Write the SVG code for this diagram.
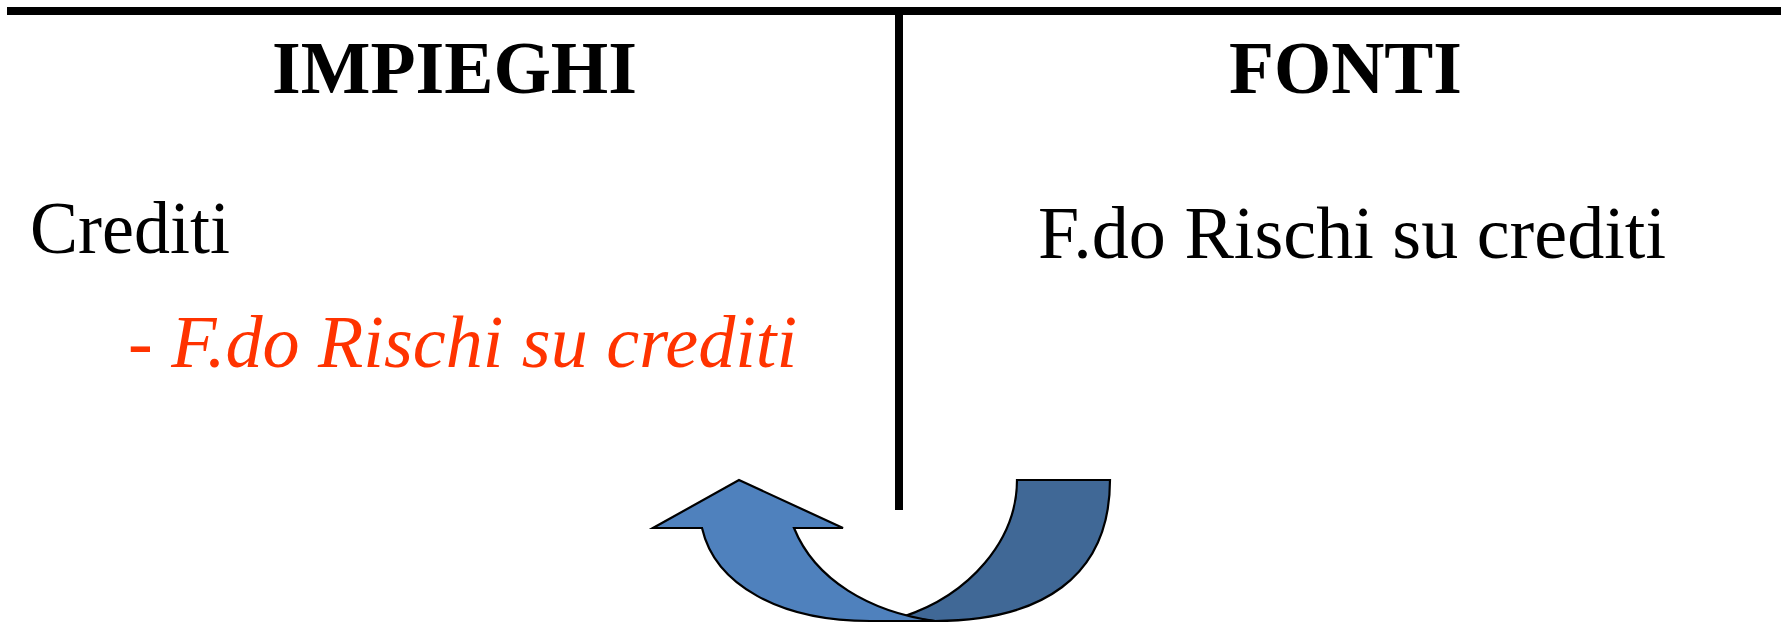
<svg xmlns="http://www.w3.org/2000/svg" width="1781" height="624" viewBox="0 0 1781 624">
<style>
.rule{stroke:#000;stroke-width:8;fill:none}
.t{font-family:"Liberation Serif","Times New Roman",serif;font-size:74px}
.h{font-weight:bold;font-size:75px}
.arrow{stroke:#000;stroke-width:2.2;stroke-linejoin:miter}
</style>
<rect width="1781" height="624" fill="#fff"/>
<g id="tchart">
<line class="rule" x1="7" y1="11" x2="1781" y2="11"/>
<line class="rule" x1="899" y1="11" x2="899" y2="510"/>
</g>
<g id="impieghi"><text class="t h" x="272" y="93" textLength="365" lengthAdjust="spacingAndGlyphs">IMPIEGHI</text></g>
<g id="fonti"><text class="t h" x="1229" y="93" textLength="233" lengthAdjust="spacingAndGlyphs">FONTI</text></g>
<g id="crediti"><text class="t" x="30" y="253" font-size="75" textLength="200" lengthAdjust="spacingAndGlyphs">Crediti</text></g>
<g id="fondo-impieghi"><text class="t" x="128" y="367" font-style="italic" font-size="72.5" fill="#FF3300" textLength="669" lengthAdjust="spacingAndGlyphs">- F.do Rischi su crediti</text></g>
<g id="fondo-fonti"><text class="t" x="1038" y="258" font-size="73" textLength="628" lengthAdjust="spacingAndGlyphs">F.do Rischi su crediti</text></g>
<g id="connectors">
<path class="arrow" fill="#406896" d="M 1017,480 L 1110,480 C 1110,578 1040,621 935,621 L 902,617 C 970,595 1017,540 1017,480 Z"/>
<path class="arrow" fill="#4F81BD" d="M 739,480 L 843,528 L 794,528 C 815,580 870,612 935,621 L 870,621 C 780,621 715,585 702,528 L 653,528 Z"/>
</g>
</svg>
